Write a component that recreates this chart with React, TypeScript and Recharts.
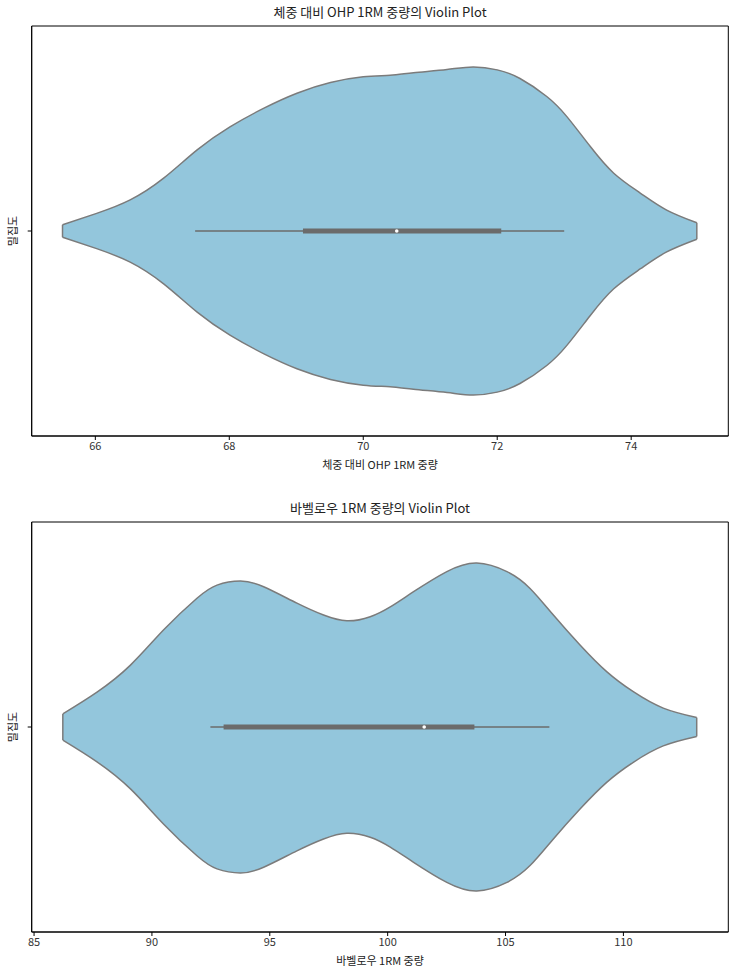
import React from 'react'
import {
  ComposedChart,
  Area,
  XAxis,
  YAxis,
  ReferenceLine,
  ReferenceDot,
  ReferenceArea
} from 'recharts'

// 체중 대비 OHP 1RM 중량 - 커널 밀도 (반폭)
const ohpX = [
  65.51, 66.02, 66.52, 67.02, 67.52, 68.01, 68.51, 69.01, 69.51, 70.0, 70.4, 70.75,
  71.25, 71.64, 72.0, 72.34, 72.74, 73.04, 73.39, 73.74, 74.14, 74.53, 74.98
]
const ohpWidth = [
  0.015, 0.043, 0.076, 0.129, 0.198, 0.254, 0.299, 0.336, 0.362, 0.376, 0.38, 0.386,
  0.394, 0.4, 0.393, 0.372, 0.328, 0.279, 0.206, 0.141, 0.092, 0.051, 0.02
]
// 하단 수염, Q1, 중앙값, Q3, 상단 수염
const ohpBox = [67.49, 69.1, 70.5, 72.06, 73.0]
const ohpTicks = [66, 68, 70, 72, 74]
const ohpDomain = [65.05, 75.45]

// 바벨로우 1RM 중량
const rowX = [
  86.22, 87.67, 89.09, 90.5, 91.91, 92.76, 93.75, 94.74, 96.15, 97.28, 98.27, 99.26,
  100.11, 101.1, 102.51, 103.78, 105.06, 106.04, 107.03, 108.16, 109.29, 110.42, 111.69,
  113.11
]
const rowWidth = [
  0.032, 0.085, 0.151, 0.237, 0.314, 0.346, 0.356, 0.342, 0.302, 0.273, 0.259, 0.269,
  0.293, 0.33, 0.379, 0.4, 0.379, 0.338, 0.273, 0.2, 0.135, 0.086, 0.046, 0.023
]
const rowBox = [92.48, 93.04, 101.55, 103.68, 106.86]
const rowTicks = [85, 90, 95, 100, 105, 110]
const rowDomain = [84.9, 114.45]

const FONT = '"Noto Sans CJK KR", "Noto Sans", sans-serif'
const FILL = '#93c6dc'
const EDGE = '#7b7b7b'
const BOX = '#6b6b6b'

interface ViolinProps {
  xs: number[]
  widths: number[]
  box: number[]
  ticks: number[]
  domain: number[]
  title: string
  xLabel: string
  top: number
}

const Violin: React.FC<ViolinProps> = ({ xs, widths, box, ticks, domain, title, xLabel, top }) => {
  const data = xs.map((x, i) => ({ x, range: [-widths[i], widths[i]] }))
  const last = xs.length - 1
  return (
    <div style={{ position: 'absolute', left: 0, top, width: 742, height: 478 }}>
      <div
        style={{
          position: 'absolute',
          left: 32,
          width: 696,
          top: 4,
          textAlign: 'center',
          fontSize: 13,
          color: '#222',
          lineHeight: '16px'
        }}
      >
        {title}
      </div>
      <div
        style={{
          position: 'absolute',
          left: 32,
          width: 696,
          top: 457,
          textAlign: 'center',
          fontSize: 11,
          color: '#222',
          lineHeight: '14px'
        }}
      >
        {xLabel}
      </div>
      <div
        style={{
          position: 'absolute',
          left: 12,
          top: 231,
          fontSize: 11,
          color: '#222',
          transform: 'translate(-50%, -50%) rotate(-90deg)',
          whiteSpace: 'nowrap'
        }}
      >
        밀집도
      </div>
      <ComposedChart
        width={742}
        height={478}
        data={data}
        margin={{ top: 26, right: 13.7, bottom: 5, left: 11.7 }}
      >
        <XAxis
          dataKey="x"
          type="number"
          domain={domain}
          ticks={ticks}
          allowDataOverflow
          height={37}
          tickSize={4}
          stroke="#000"
          tick={{ fill: '#333', fontSize: 11, fontFamily: FONT }}
        />
        <YAxis
          type="number"
          domain={[-0.5, 0.5]}
          ticks={[0]}
          width={20}
          tickSize={4}
          stroke="#000"
          tickFormatter={() => ''}
        />
        <ReferenceArea
          x1={domain[0]}
          x2={domain[1]}
          y1={-0.5}
          y2={0.5}
          fill="none"
          stroke="#000"
          strokeWidth={1}
          ifOverflow="extendDomain"
        />
        <Area
          dataKey="range"
          type="natural"
          fill={FILL}
          fillOpacity={1}
          stroke={EDGE}
          strokeWidth={1.5}
          isAnimationActive={false}
          dot={false}
          activeDot={false}
        />
        <ReferenceLine
          segment={[
            { x: xs[0], y: -widths[0] },
            { x: xs[0], y: widths[0] }
          ]}
          stroke={EDGE}
          strokeWidth={1.5}
        />
        <ReferenceLine
          segment={[
            { x: xs[last], y: -widths[last] },
            { x: xs[last], y: widths[last] }
          ]}
          stroke={EDGE}
          strokeWidth={1.5}
        />
        <ReferenceLine
          segment={[
            { x: box[0], y: 0 },
            { x: box[4], y: 0 }
          ]}
          stroke={BOX}
          strokeWidth={1.5}
        />
        <ReferenceLine
          segment={[
            { x: box[1], y: 0 },
            { x: box[3], y: 0 }
          ]}
          stroke={BOX}
          strokeWidth={5}
        />
        <ReferenceDot x={box[2]} y={0} r={1.8} fill="#fff" stroke="none" />
      </ComposedChart>
    </div>
  )
}

const App: React.FC = () => {
  return (
    <div
      style={{
        position: 'absolute',
        left: 0,
        top: 0,
        width: 742,
        height: 974,
        background: '#fff',
        fontFamily: FONT,
        overflow: 'hidden'
      }}
    >
      <Violin
        xs={ohpX}
        widths={ohpWidth}
        box={ohpBox}
        ticks={ohpTicks}
        domain={ohpDomain}
        title="체중 대비 OHP 1RM 중량의 Violin Plot"
        xLabel="체중 대비 OHP 1RM 중량"
        top={0}
      />
      <Violin
        xs={rowX}
        widths={rowWidth}
        box={rowBox}
        ticks={rowTicks}
        domain={rowDomain}
        title="바벨로우 1RM 중량의 Violin Plot"
        xLabel="바벨로우 1RM 중량"
        top={496}
      />
    </div>
  )
}

export default App
